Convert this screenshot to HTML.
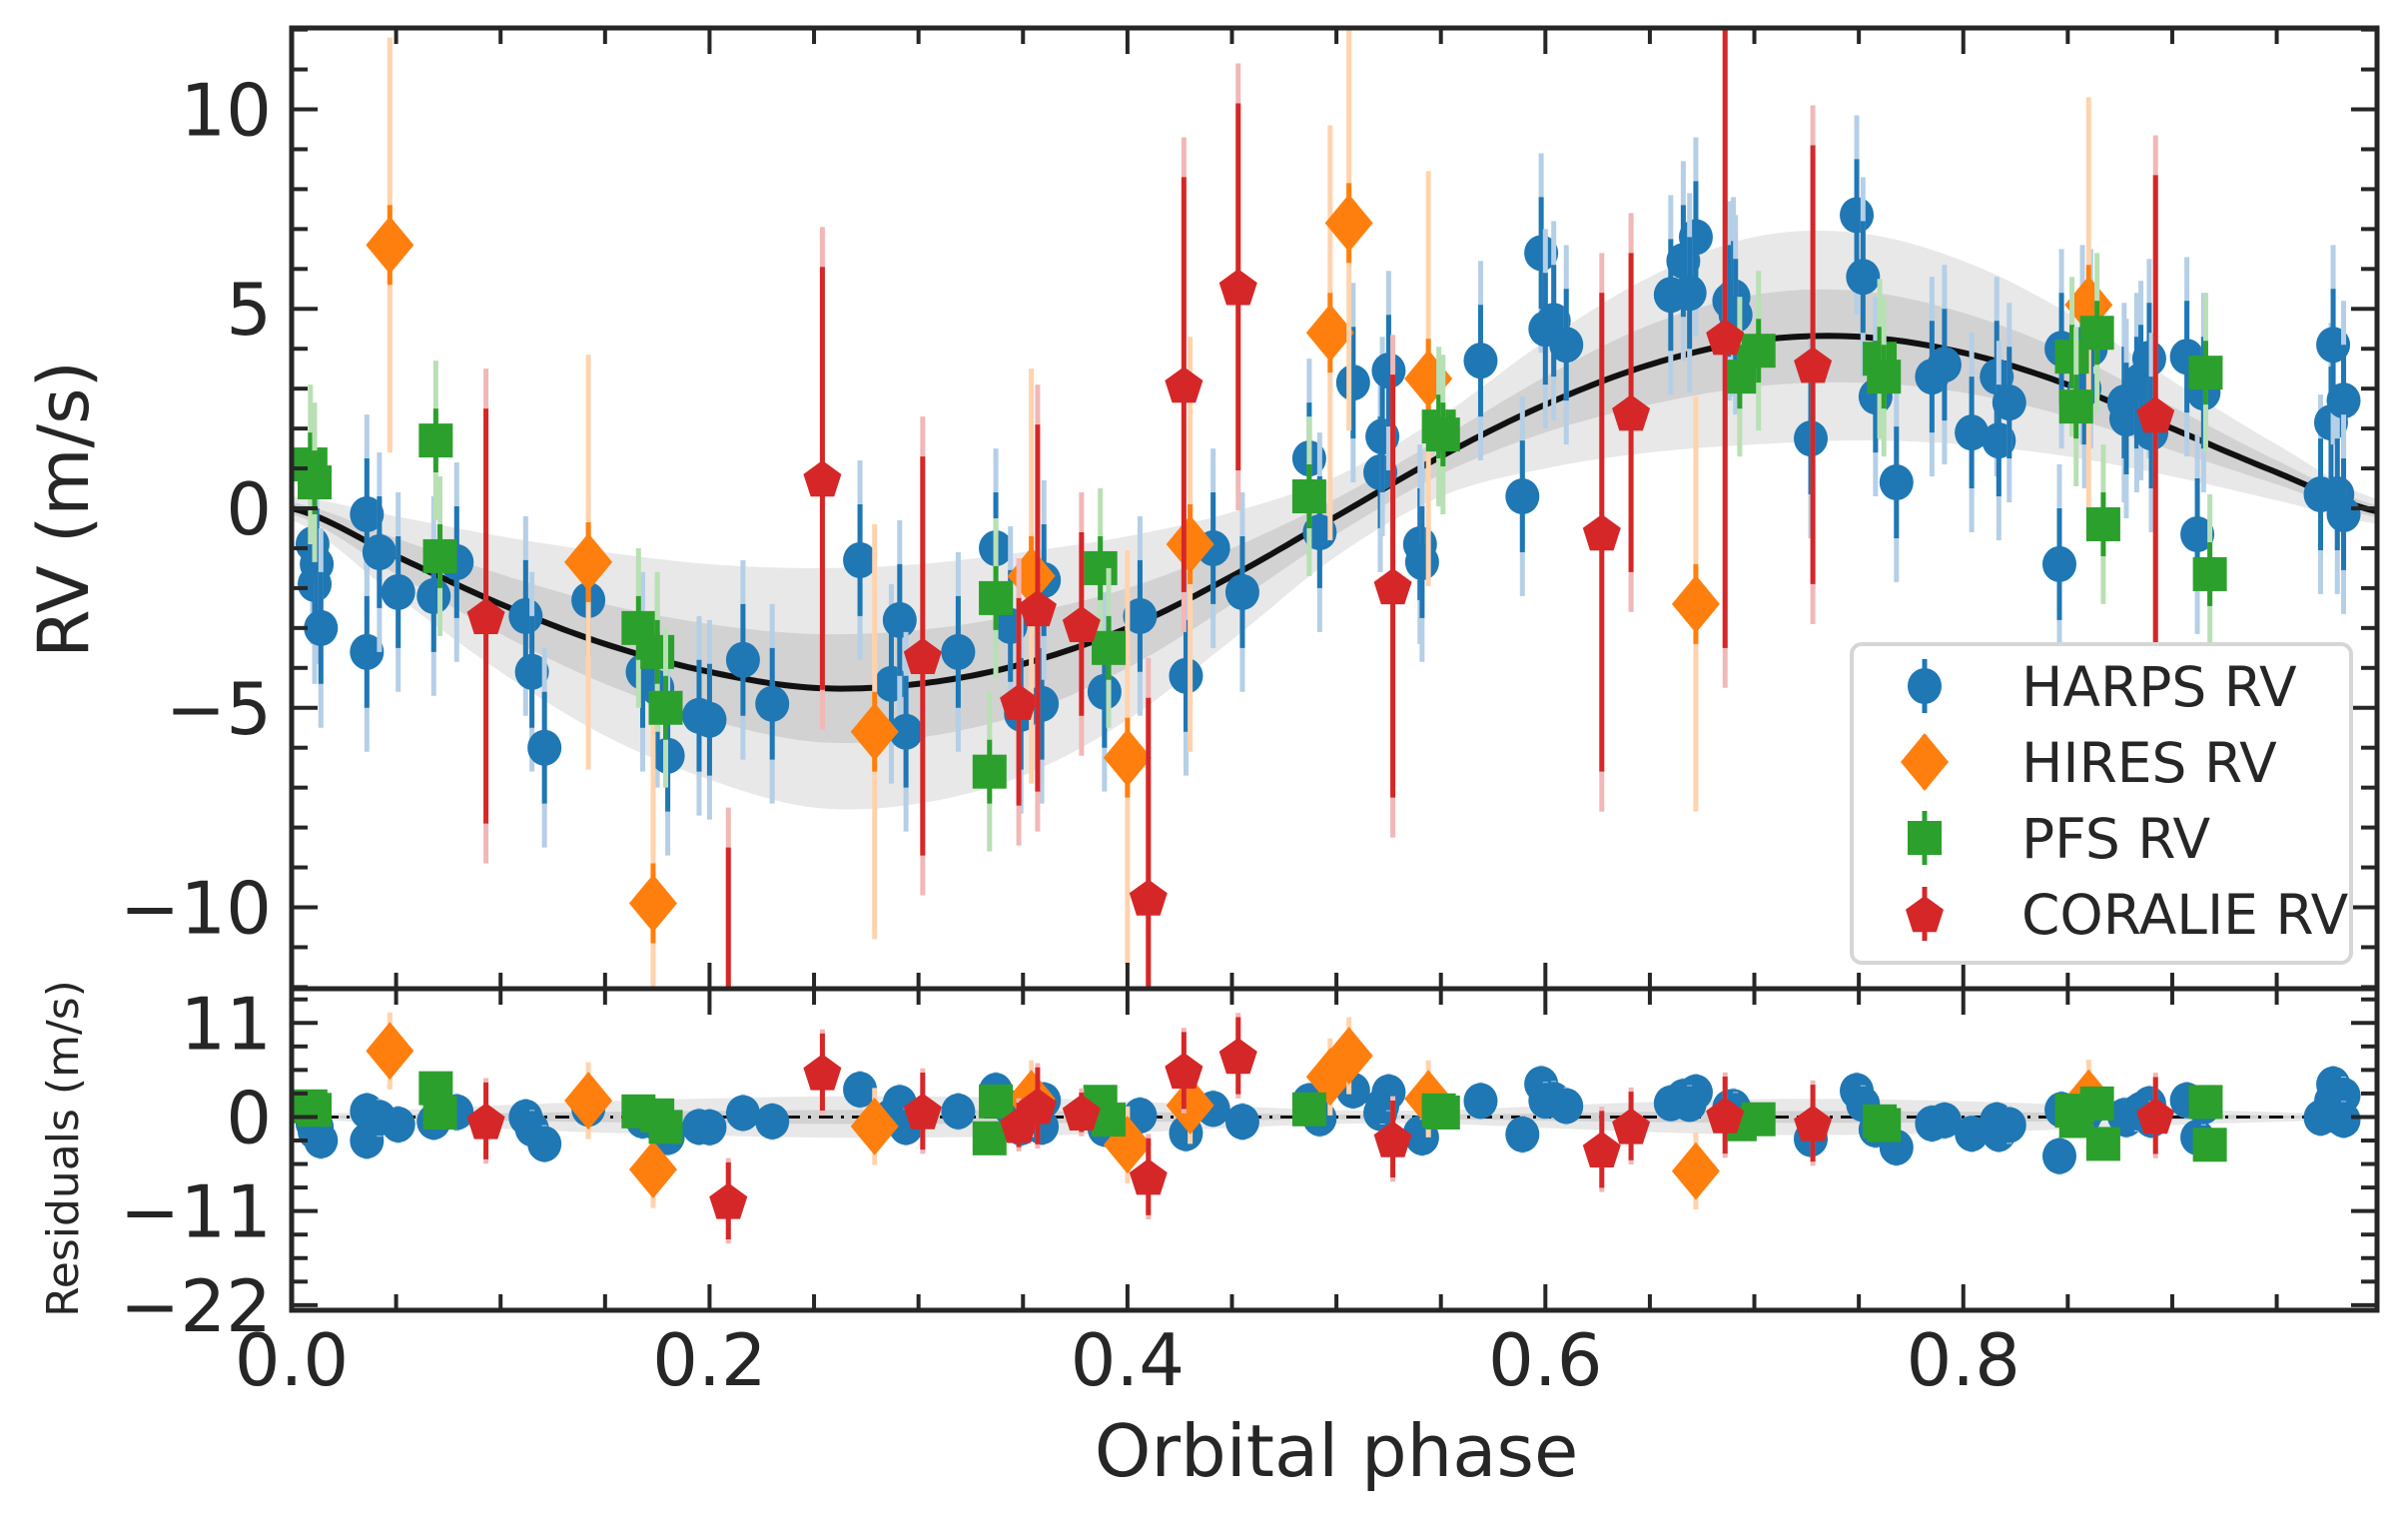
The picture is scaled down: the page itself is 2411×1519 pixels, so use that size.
<!DOCTYPE html>
<html><head><meta charset="utf-8"><style>
html,body{margin:0;padding:0;background:#fff;}
svg{display:block;font-family:"DejaVu Sans","Liberation Sans",sans-serif;}
</style></head><body>
<svg id="chart" width="2411" height="1519" viewBox="0 0 2411 1519" xmlns="http://www.w3.org/2000/svg">
<rect width="2411" height="1519" fill="#fff"/>
<g id="main"></g>
<g id="resid"></g>
<g id="axes"></g>
<g id="legend"></g>
</svg>
<script>
// ---- data ----
const modelPhase = [0,0.05,0.1,0.15,0.2,0.25,0.3,0.35,0.4,0.45,0.5,0.55,0.6,0.65,0.7,0.75,0.8,0.85,0.9,0.95,1.0];
const modelRV    = [0,-1.2,-2.4,-3.4,-4.1,-4.5,-4.4,-3.9,-3.0,-1.7,-0.2,1.3,2.6,3.6,4.2,4.3,3.9,3.1,2.0,0.9,-0.1];
const bandOuter  = [0.3,1.0,1.7,2.3,2.7,3.0,3.0,2.8,2.3,1.6,1.0,1.0,1.6,2.2,2.6,2.6,2.3,1.8,1.2,0.7,0.3];
const bandInner  = [0.15,0.45,0.75,1.0,1.2,1.35,1.35,1.25,1.0,0.7,0.45,0.45,0.7,1.0,1.15,1.15,1.0,0.8,0.55,0.3,0.15];
const harpsPhase = [0.01,0.011,0.012,0.014,0.036,0.036,0.042,0.051,0.068,0.079,0.112,0.115,0.121,0.142,0.168,0.175,0.18,0.195,0.2,0.216,0.23,0.272,0.287,0.291,0.294,0.319,0.337,0.344,0.349,0.359,0.36,0.389,0.406,0.428,0.441,0.455,0.487,0.492,0.508,0.521,0.522,0.525,0.54,0.541,0.569,0.589,0.598,0.6,0.604,0.61,0.66,0.666,0.672,0.669,0.688,0.69,0.691,0.727,0.749,0.752,0.758,0.768,0.785,0.791,0.804,0.816,0.817,0.822,0.846,0.847,0.857,0.858,0.861,0.877,0.878,0.883,0.885,0.889,0.89,0.907,0.912,0.915,0.971,0.976,0.977,0.979,0.982,0.982];
const harpsRV    = [-0.9,-1.9,-1.4,-3.0,-0.15,-3.6,-1.1,-2.1,-2.2,-1.35,-2.7,-4.1,-6.0,-2.3,-4.1,-4.5,-6.2,-5.2,-5.3,-3.8,-4.9,-1.3,-4.4,-2.8,-5.6,-3.6,-1.0,-2.95,-5.15,-4.9,-1.8,-4.6,-2.7,-4.2,-1.0,-2.1,1.25,-0.6,3.15,0.9,1.8,3.45,-0.9,-1.35,3.7,0.3,6.4,4.5,4.7,4.1,5.35,6.2,6.8,5.4,5.2,5.3,4.85,1.75,7.35,5.8,2.8,0.65,3.3,3.6,1.9,3.3,1.7,2.65,-1.4,4.0,4.1,3.0,4.0,2.65,2.25,2.9,3.2,3.75,1.9,3.8,-0.65,2.9,0.35,2.15,4.1,0.35,2.7,-0.15];
const hiresPhase = [0.047,0.142,0.173,0.279,0.354,0.4,0.43,0.497,0.506,0.544,0.672,0.86];
const hiresRV    = [6.6,-1.35,-9.9,-5.6,-1.7,-6.25,-0.9,4.4,7.15,3.25,-2.4,5.1];
const pfsPhase   = [0.009,0.011,0.069,0.071,0.166,0.175,0.179,0.334,0.337,0.387,0.391,0.487,0.549,0.551,0.693,0.702,0.76,0.762,0.852,0.854,0.864,0.867,0.916,0.918];
const pfsRV      = [1.1,0.65,1.7,-1.2,-3.0,-3.6,-5.0,-6.6,-2.25,-1.5,-3.5,0.3,2.05,1.85,3.3,3.95,3.75,3.3,3.8,2.55,4.4,-0.4,3.4,-1.65];
const coraPhase  = [0.093,0.209,0.254,0.302,0.348,0.357,0.378,0.41,0.427,0.453,0.527,0.627,0.641,0.686,0.728,0.892];
const coraRV     = [-2.7,-14.0,0.75,-3.7,-4.85,-2.5,-2.9,-9.75,3.1,5.55,-1.95,-0.6,2.4,4.3,3.6,2.35];
const coraErr    = [5.2,5.5,5.3,5.0,2.6,4.6,2.3,5.0,5.2,4.6,5.3,6.0,4.0,7.8,5.5,6.0];
const xTicks = [0.0,0.2,0.4,0.6,0.8];
const yTicks = [10,5,0,-5,-10];
const rTicks = [11,0,-11,-22];

// ---- geometry ----
const L=292,R=2380,T=28,M=990,B=1312;
const X0=0,X1=0.998,Y0=-12.04,Y1=12.04,RY0=-22.6,RY1=15;
const sx=p=>L+(p-X0)/(X1-X0)*(R-L);
const sy=v=>T+(Y1-v)/(Y1-Y0)*(M-T);
const ry=v=>M+(RY1-v)/(RY1-RY0)*(B-M);
const NS="http://www.w3.org/2000/svg";
function mk(tag,attrs,parent){const e=document.createElementNS(NS,tag);for(const k in attrs)e.setAttribute(k,attrs[k]);parent.appendChild(e);return e;}
// smooth Catmull-Rom interpolation
function interp(arr,p){const n=modelPhase.length;let i=0;while(i<n-2&&p>modelPhase[i+1])i++;
  const h=modelPhase[i+1]-modelPhase[i];const t=Math.max(0,Math.min(1,(p-modelPhase[i])/h));
  const p0=arr[Math.max(0,i-1)],p1=arr[i],p2=arr[i+1],p3=arr[Math.min(n-1,i+2)];
  const m1=(p2-p0)/2,m2=(p3-p1)/2;const t2=t*t,t3=t2*t;
  return (2*t3-3*t2+1)*p1+(t3-2*t2+t)*m1+(-2*t3+3*t2)*p2+(t3-t2)*m2;}
const model=p=>interp(modelRV,p);
const main=document.getElementById('main'),resid=document.getElementById('resid'),axes=document.getElementById('axes'),leg=document.getElementById('legend');

const defs=mk('defs',{},document.getElementById('chart'));
const c1=mk('clipPath',{id:'c1'},defs);mk('rect',{x:L,y:T,width:R-L,height:M-T},c1);
const c2=mk('clipPath',{id:'c2'},defs);mk('rect',{x:L,y:M,width:R-L,height:B-M},c2);
main.setAttribute('clip-path','url(#c1)');resid.setAttribute('clip-path','url(#c2)');

function bandPath(w,fy,center){let up='',dn='';const N=300;for(let i=0;i<=N;i++){const p=X0+(X1-X0)*i/N;const c=center(p),d=interp(w,p);up+=(i?'L':'M')+sx(p).toFixed(1)+','+fy(c+d).toFixed(1);}for(let i=N;i>=0;i--){const p=X0+(X1-X0)*i/N;const c=center(p),d=interp(w,p);dn+='L'+sx(p).toFixed(1)+','+fy(c-d).toFixed(1);}return up+dn+'Z';}
let e;
e=mk('path',{d:bandPath(bandOuter,sy,model),fill:'#e8e8e8'},main);


e=mk('path',{d:bandPath(bandInner,sy,model),fill:'#d2d2d2'},main);


let md='';for(let i=0;i<=300;i++){const p=X0+(X1-X0)*i/300;md+=(i?'L':'M')+sx(p).toFixed(1)+','+sy(model(p)).toFixed(1);}
e=mk('path',{d:md,fill:'none',stroke:'#111',"stroke-width":6},main);



const rw1=bandOuter.map(v=>Math.min(v*0.8,2.4)),rw2=bandInner.map(v=>v*0.6);
e=mk('path',{d:bandPath(rw1,ry,()=>0),fill:'#e8e8e8'},resid);


e=mk('path',{d:bandPath(rw2,ry,()=>0),fill:'#d2d2d2'},resid);


e=mk('line',{x1:L,x2:R,y1:ry(0),y2:ry(0),stroke:'#111',"stroke-width":3,"stroke-dasharray":"14,8,3,8"},resid);



function marker(g,shape,x,y,color){
  if(shape==='circle') return mk('ellipse',{cx:x,cy:y,rx:17,ry:18,fill:color},g);
  if(shape==='diamond') return mk('polygon',{points:`${x},${y-29} ${x+24},${y} ${x},${y+29} ${x-24},${y}`,fill:color},g);
  if(shape==='square') return mk('rect',{x:x-17,y:y-17,width:34,height:34,fill:color},g);
  let pts=[];for(let k=0;k<5;k++){const a=-Math.PI/2+k*2*Math.PI/5;pts.push((x+20*Math.cos(a)).toFixed(1)+','+(y+20*Math.sin(a)+2).toFixed(1));}
  return mk('polygon',{points:pts.join(' '),fill:color},g);
}
const series=[
 {name:'harps',phase:harpsPhase,rv:harpsRV,err:harpsPhase.map(()=>1.4),jit:1.1,res:0.8,color:'#1f77b4',light:'#b5cfe6',shape:'circle'},
 {name:'hires',phase:hiresPhase,rv:hiresRV,err:hiresPhase.map(()=>1.0),jit:4.2,res:3.5,color:'#ff7f0e',light:'#ffd3ae',shape:'diamond'},
 {name:'pfs',phase:pfsPhase,rv:pfsRV,err:pfsPhase.map(()=>0.8),jit:1.2,res:1.0,color:'#2ca02c',light:'#b9e0b4',shape:'square'},
 {name:'coralie',phase:coraPhase,rv:coraRV,err:coraErr,jit:1.0,res:0.5,color:'#d62728',light:'#f2b7b7',shape:'pentagon'}
];
series.forEach(s=>{
  const gm=mk('g',{},main);
  const gr=mk('g',{},resid);
  s.phase.forEach((p,i)=>{
    const x=sx(p),v=s.rv[i],er=s.err[i],r=v-model(p);
    let l=mk('line',{x1:x,x2:x,y1:sy(v-er-s.jit),y2:sy(v+er+s.jit),stroke:s.light,"stroke-width":5},gm);
    
    
    l=mk('line',{x1:x,x2:x,y1:sy(v-er),y2:sy(v+er),stroke:s.color,"stroke-width":5},gm);
    
    
    let m=marker(gm,s.shape,x,sy(v),s.color);
    
    
    const re=Math.min(er,s.name==='coralie'?4.5:er);
    l=mk('line',{x1:x,x2:x,y1:ry(r-re-s.res),y2:ry(r+re+s.res),stroke:s.light,"stroke-width":5},gr);
    
    
    l=mk('line',{x1:x,x2:x,y1:ry(r-re),y2:ry(r+re),stroke:s.color,"stroke-width":5},gr);
    
    
    m=marker(gr,s.shape,x,ry(r),s.color);
    
    
  });
});

const AX='#262626';
[[T,M],[M,B]].forEach(([t,b],k)=>{
  const r=mk('rect',{x:L,y:t,width:R-L,height:b-t,fill:'none',stroke:AX,"stroke-width":5},axes);
  
  
});
function tick(x1,y1,x2,y2){const l=mk('line',{x1,y1,x2,y2,stroke:AX,"stroke-width":4},axes);}
function text(x,y,s,size,anchor,name,rot){const t=mk('text',{x,y,"font-size":size,fill:AX,"text-anchor":anchor},axes);if(rot)t.setAttribute('transform',`rotate(-90 ${x} ${y})`);t.textContent=s;return t;}
for(let p=0;p<=X1+1e-9;p+=0.05){const major=Math.abs(p/0.2-Math.round(p/0.2))<1e-6;const len=major?26:16;const x=sx(p);
  [[T,1],[M,-1],[M,1],[B,-1]].forEach(([y,d])=>tick(x,y,x,y+d*len));}
xTicks.forEach(p=>text(sx(p),1387,p.toFixed(1),72,'middle','x-tick-label'));
for(let v=-12;v<=12;v++){const major=v%5===0;const len=major?26:16;tick(L,sy(v),L+len,sy(v));tick(R,sy(v),R-len,sy(v));}
yTicks.forEach(v=>text(272,sy(v)+26,v<0?'\u2212'+Math.abs(v):String(v),72,'end','y-tick-label'));
for(let v=-22;v<=15;v+=2.75){const major=Math.abs(v/11-Math.round(v/11))<1e-6;const len=major?26:16;tick(L,ry(v),L+len,ry(v));tick(R,ry(v),R-len,ry(v));}
rTicks.forEach(v=>text(272,ry(v)+26,v<0?'\u2212'+Math.abs(v):String(v),72,'end','residual-tick-label'));
text(1338,1478,'Orbital phase',72,'middle','x-axis-title');
text(88,510,'RV (m/s)',70,'middle','y-axis-title',true);
text(78,1150,'Residuals (m/s)',44,'middle','residual-axis-title',true);

const lb=mk('rect',{x:1854,y:645,width:500,height:319,rx:10,fill:'#fff',stroke:'#d6d6d6',"stroke-width":4},leg);


const labels=['HARPS RV','HIRES RV','PFS RV','CORALIE RV'];
series.forEach((s,i)=>{
  const y=687+i*76;
  const g=mk('g',{},leg);
  mk('line',{x1:1927,x2:1927,y1:y-27,y2:y+27,stroke:s.color,"stroke-width":5},g);
  marker(g,s.shape,1927,y,s.color);
  const t=mk('text',{x:2024,y:y+20,"font-size":55,fill:AX},g);t.textContent=labels[i];
  
  
});
</script>
</body></html>
